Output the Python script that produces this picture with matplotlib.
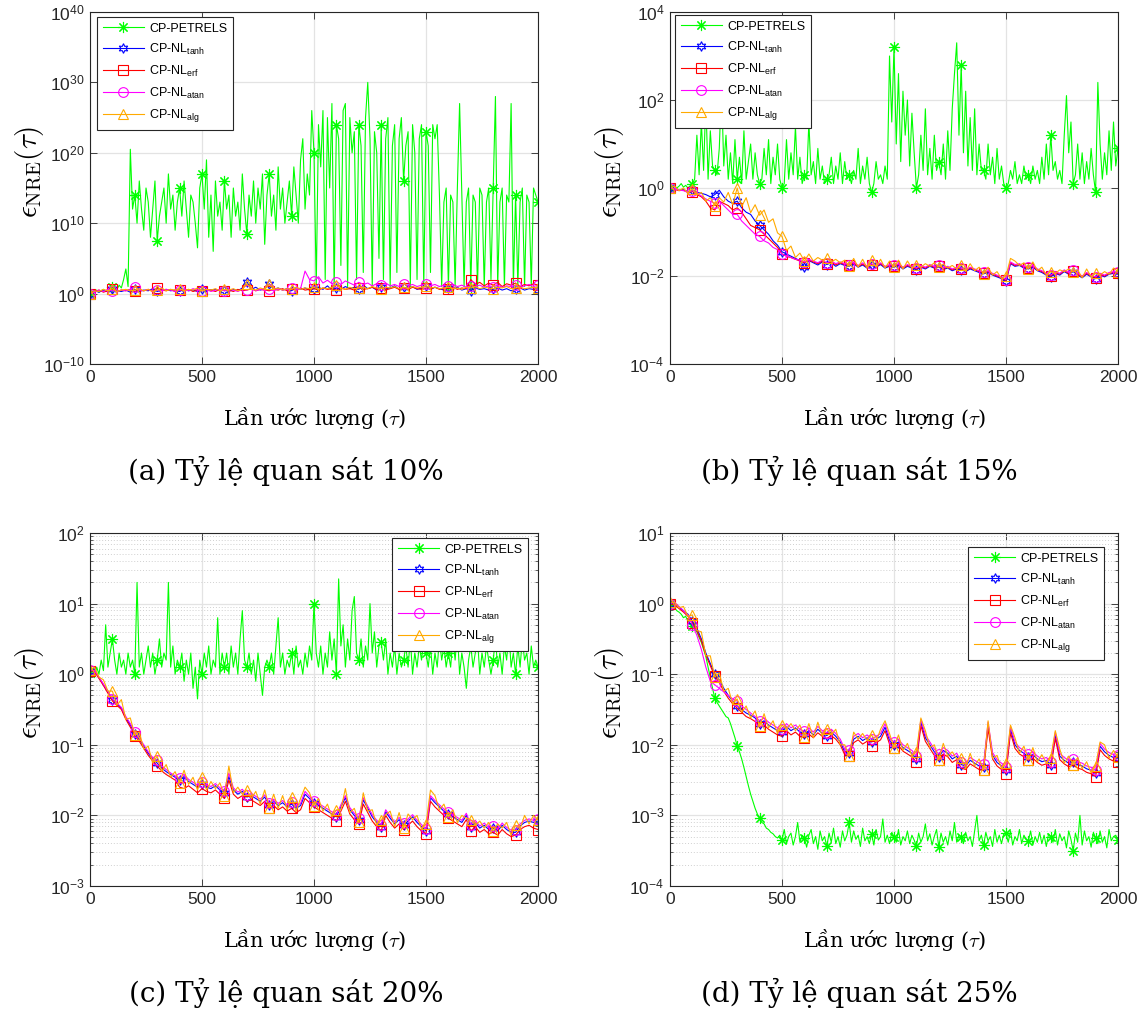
import numpy as np
import matplotlib
matplotlib.use("Agg")
import matplotlib.pyplot as plt
from matplotlib.ticker import FixedLocator, LogLocator, NullFormatter, LogFormatterSciNotation

plt.rcParams.update({
    "font.family": ["Liberation Sans", "DejaVu Sans"],
    "mathtext.fontset": "custom",
    "mathtext.rm": "Liberation Sans",
    "mathtext.it": "Liberation Sans:italic",
    "mathtext.bf": "Liberation Sans:bold",
})

# iteration index (tau): CP-PETRELS read every 10 estimates, CP-NL every 20
tau10 = np.arange(0, 2001, 10)
tau20 = np.arange(0, 2001, 20)

# ---------------- values are log10(eps_NRE) ----------------
# (a) 10% observation
a_petrels = [0, 0.2, 0.3, 0.5, 0.2, 0.4, 0.6, 0.3, 0.5, 0.8, 1.0, 1.0, 0.6, 1.2, 0.8, 2.0, 3.5, 1.0, 20.5, 12,
             14, 10, 16, 12, 9, 15, 13, 8, 12, 16, 7.5, 11, 13, 15, 10, 17, 12, 14, 9, 13,
             15, 11, 16, 12, 8, 14, 13, 10, 6.5, 15, 17, 12, 19, 8, 14, 6, 16, 11, 13, 9,
             16, 12, 14, 8, 15, 11, 13, 9, 17, 12, 8.5, 14, 11, 16, 10, 15, 12, 17, 7, 14,
             17, 11, 14, 9, 18, 12, 15, 10, 13, 16, 11, 18, 14, 10, 19, 22, 12, 17, 14, 26,
             20, 1, 24, 18, 26, 2, 25, 15, 27, 0.5, 24, 22, 4, 26, 27, 1, 25, 20, 23, 2,
             24, 21, 3, 25, 30, 22, 1, 23, 20, 5, 24, 2, 22, 25, 1, 21, 24, 3, 22, 25,
             16, 21, 23, 1, 24, 20, 2, 22, 24, 1, 23, 21, 3, 24, 22, 24, 14, 1, 13, 15,
             1, 14, 13, 1, 15, 27, 14, 1, 13, 15, 1, 14, 13, 1, 15, 14, 1, 13, 15, 2,
             15, 28, 1, 13, 15, 1, 14, 13, 27, 1, 14, 1, 13, 15, 1, 14, 13, 1, 15, 14,
             13]
a_tanh = [0, 0.4, 0.2, 0.5, 0.3, 0.6, 0.4, 0.3, 0.5, 0.2,
          0.6, 0.3, 0.5, 0.4, 0.7, 0.3, 0.5, 0.6, 0.4, 0.5,
          0.3, 0.6, 0.4, 0.5, 0.3, 0.7, 0.4, 0.5, 0.6, 0.4,
          0.5, 0.3, 0.6, 0.4, 0.8, 1.7, 0.6, 0.9, 0.5, 0.7,
          1.4, 0.6, 0.8, 0.5, 0.7, 0.4, 0.9, 0.6, 0.8, 0.5,
          0.7, 0.9, 0.6, 1.1, 0.5, 0.8, 0.6, 1.0, 0.7, 0.9,
          0.6, 1.2, 0.7, 0.9, 0.5, 1.0, 0.7, 0.8, 1.1, 0.6,
          0.9, 0.7, 1.0, 0.6, 0.8, 1.1, 0.6, 0.9, 0.7, 0.5,
          0.8, 0.6, 0.9, 0.5, 0.7, 0.4, 0.8, 0.6, 0.7, 0.5,
          0.6, 0.8, 0.5, 0.7, 0.4, 0.6, 0.8, 0.5, 0.7, 0.6,
          0.5]
a_erf = [0, 0.3, 0.5, 0.2, 0.4, 0.6, 0.3, 0.5, 0.4, 0.6,
         0.3, 0.5, 0.4, 0.6, 0.3, 0.8, 0.5, 0.4, 0.6, 0.3,
         0.5, 0.4, 0.6, 0.3, 0.5, 0.4, 0.6, 0.5, 0.3, 0.6,
         0.4, 0.5, 0.3, 0.6, 0.4, 0.5, 0.7, 0.4, 0.6, 0.5,
         0.4, 0.6, 0.5, 0.7, 0.4, 0.6, 0.5, 0.8, 0.5, 0.6,
         0.7, 0.5, 0.8, 0.6, 0.7, 0.5, 0.8, 0.6, 0.7, 0.5,
         0.8, 0.6, 0.7, 0.9, 0.6, 0.8, 0.5, 0.7, 0.9, 0.6,
         0.8, 0.6, 0.9, 0.7, 0.6, 0.8, 0.7, 0.9, 0.6, 0.8,
         0.7, 0.9, 0.6, 0.8, 0.7, 2.0, 1.3, 1.6, 1.1, 1.5,
         1.2, 1.6, 1.0, 1.4, 1.2, 1.5, 1.0, 1.3, 1.1, 1.4,
         1.2]
a_atan = [0, 0.2, 0.5, 0.3, 0.6, 0.4, 0.3, 0.5, 0.4, 0.6,
          1.0, 0.5, 0.4, 0.6, 0.3, 0.5, 0.4, 0.6, 0.5, 0.3,
          0.5, 0.6, 0.4, 0.7, 0.5, 0.4, 0.6, 0.3, 0.5, 0.6,
          0.4, 0.6, 0.5, 0.3, 0.6, 0.5, 0.7, 0.4, 0.6, 0.5,
          0.6, 0.4, 0.7, 0.5, 0.6, 0.8, 0.6, 0.7, 3.2, 2.0,
          1.8, 2.4, 1.5, 1.9, 1.4, 1.7, 1.3, 1.8, 1.5, 1.2,
          1.6, 1.3, 1.5, 1.1, 1.4, 1.2, 1.5, 1.1, 1.3, 1.0,
          1.4, 1.1, 1.3, 1.0, 1.2, 1.4, 1.1, 1.3, 1.0, 1.2,
          1.1, 1.3, 1.0, 1.2, 0.9, 1.1, 1.0, 1.2, 0.9, 1.1,
          1.0, 1.2, 0.9, 1.1, 1.0, 1.2, 0.9, 1.1, 1.3, 1.0,
          1.2]
a_alg = [0, 0.4, 0.3, 0.6, 0.4, 0.7, 0.3, 0.5, 0.6, 0.4,
         0.5, 0.7, 0.4, 0.6, 0.3, 0.5, 0.8, 0.4, 0.6, 0.5,
         0.7, 0.4, 0.6, 0.5, 0.8, 0.4, 0.6, 0.5, 0.7, 0.4,
         0.6, 0.5, 0.7, 0.4, 0.6, 1.4, 0.7, 0.5, 0.8, 0.6,
         1.3, 0.6, 0.8, 0.5, 0.7, 0.6, 0.9, 0.6, 0.8, 0.7,
         0.9, 0.6, 0.8, 0.7, 0.9, 1.2, 0.8, 0.6, 0.9, 0.7,
         0.8, 0.9, 0.7, 1.0, 0.8, 0.7, 0.9, 0.8, 1.0, 0.7,
         0.9, 0.7, 1.0, 0.8, 0.9, 1.1, 0.8, 0.9, 0.7, 0.8,
         0.9, 0.7, 0.8, 0.6, 0.9, 0.8, 1.0, 0.7, 0.9, 0.8,
         0.7, 0.9, 0.8, 1.0, 0.7, 0.8, 0.9, 0.7, 0.8, 0.9,
         0.8]

# (b) 15% observation
b_petrels = [0, 0.02, 0.05, 0.0, 0.04, 0.1, 0.02, 0.06, 0.0, 0.05, 0.1, 0.2, 1.2, 0.3, 1.5, 0.4, 2.0, 0.2, 1.3, 0.5,
             0.4, 0.3, 0.9, 2.3, 0.5, 1.2, 0.2, 0.8, 0.1, 1.1, 0.2, 0.7, 0.1, 1.3, 0.2, 0.6, 1.0, 0.2, 0.8, 0.3,
             0.1, 0.2, 0.9, 0.3, 1.1, 0.1, 0.7, 0.3, 1.0, 0.2, 0.0, 0.1, 1.1, 0.2, 0.8, 0.3, 1.4, 0.2, 0.7, 0.1,
             0.3, 0.2, 1.5, 0.3, 0.6, 0.1, 0.9, 0.2, 0.5, 0.1, 0.2, 0.3, 0.7, 0.1, 0.5, 0.2, 0.8, 0.1, 0.6, 0.2,
             0.3, 0.1, 0.4, 0.2, 0.9, 0.1, 0.5, 0.2, 0.7, 0.1, -0.1, 0.1, 0.6, 0.2, 0.3, 0.1, 0.5, 0.2, 3.0, 1.5,
             3.2, 1.0, 2.6, 0.6, 2.2, 1.2, 2.0, 0.5, 1.7, 0.8, 0.0, 0.3, 1.2, 0.4, 1.8, 0.3, 0.9, 0.2, 1.2, 0.4,
             0.6, 0.3, 1.0, 0.2, 1.3, 0.4, 1.8, 2.6, 3.3, 1.2, 2.8, 0.8, 2.2, 0.5, 1.6, 0.4, 1.8, 0.3, 1.0, 0.4,
             0.4, 0.2, 1.0, 0.3, 0.7, 0.1, 0.9, 0.2, 0.5, 0.1, 0.0, 0.1, 0.4, 0.2, 0.6, 0.1, 0.3, 0.1, 0.5, 0.2,
             0.3, 0.1, 0.5, 0.2, 0.4, 0.1, 0.7, 0.2, 1.0, 0.3, 1.2, 0.4, 0.6, 0.2, 0.4, 0.1, 1.2, 2.1, 0.8, 1.5,
             0.1, 0.3, 1.0, 0.2, 0.8, 0.1, 0.6, 0.2, 0.9, 0.3, -0.1, 2.4, 1.0, 0.2, 0.8, 0.3, 1.3, 0.4, 1.5, 0.5,
             0.9]
b_tanh = [0, -0.02, -0.05, -0.04, -0.08, -0.05, -0.1, -0.12, -0.15, -0.2,
          -0.15, -0.05, -0.2, -0.3, -0.35, -0.3, -0.45, -0.55, -0.6, -0.75,
          -0.85, -0.95, -1.05, -1.2, -1.3, -1.45, -1.5, -1.55, -1.6, -1.65,
          -1.8, -1.65, -1.7, -1.75, -1.68, -1.74, -1.7, -1.78, -1.72, -1.76,
          -1.78, -1.72, -1.8, -1.75, -1.82, -1.76, -1.8, -1.74, -1.82, -1.78,
          -1.8, -1.76, -1.84, -1.78, -1.82, -1.86, -1.8, -1.84, -1.78, -1.82,
          -1.8, -1.85, -1.82, -1.88, -1.84, -1.86, -1.9, -1.84, -1.88, -1.92,
          -1.95, -1.92, -1.98, -2.02, -2.06, -2.12, -1.72, -1.78, -1.76, -1.82,
          -1.84, -1.8, -1.88, -1.92, -1.98, -2.02, -1.94, -1.98, -1.9, -1.96,
          -1.9, -1.98, -2.04, -1.96, -2.02, -2.06, -1.98, -2.02, -1.96, -1.94,
          -1.96]
b_erf = [0, -0.03, -0.06, -0.05, -0.1, -0.08, -0.15, -0.2, -0.3, -0.45,
         -0.5, -0.3, -0.35, -0.4, -0.5, -0.45, -0.55, -0.7, -0.85, -0.9,
         -0.95, -1.05, -1.15, -1.25, -1.35, -1.5, -1.55, -1.58, -1.62, -1.66,
         -1.7, -1.64, -1.68, -1.72, -1.66, -1.72, -1.68, -1.75, -1.7, -1.74,
         -1.76, -1.7, -1.78, -1.73, -1.8, -1.74, -1.78, -1.72, -1.8, -1.76,
         -1.78, -1.74, -1.82, -1.76, -1.8, -1.84, -1.78, -1.82, -1.76, -1.8,
         -1.78, -1.83, -1.8, -1.86, -1.82, -1.84, -1.88, -1.82, -1.86, -1.9,
         -1.93, -1.9, -1.96, -2.0, -2.04, -2.1, -1.7, -1.76, -1.74, -1.8,
         -1.82, -1.78, -1.86, -1.9, -1.96, -2.0, -1.92, -1.96, -1.88, -1.94,
         -1.88, -1.96, -2.02, -1.94, -2.0, -2.04, -1.96, -2.0, -1.94, -1.92,
         -1.94]
b_atan = [0, -0.02, -0.05, -0.06, -0.1, -0.06, -0.12, -0.18, -0.25, -0.3,
          -0.35, -0.3, -0.4, -0.5, -0.6, -0.6, -0.75, -0.85, -0.95, -1.05,
          -1.1, -1.2, -1.25, -1.35, -1.4, -1.5, -1.55, -1.58, -1.62, -1.64,
          -1.68, -1.62, -1.66, -1.7, -1.64, -1.7, -1.66, -1.72, -1.68, -1.72,
          -1.74, -1.68, -1.76, -1.7, -1.78, -1.72, -1.76, -1.7, -1.78, -1.74,
          -1.76, -1.72, -1.8, -1.74, -1.78, -1.82, -1.76, -1.8, -1.74, -1.78,
          -1.76, -1.81, -1.78, -1.84, -1.8, -1.82, -1.86, -1.8, -1.84, -1.88,
          -1.91, -1.88, -1.94, -1.98, -2.02, -2.08, -1.68, -1.74, -1.72, -1.78,
          -1.8, -1.76, -1.84, -1.88, -1.94, -1.98, -1.9, -1.94, -1.86, -1.92,
          -1.86, -1.94, -2.0, -1.92, -1.98, -2.02, -1.94, -1.98, -1.92, -1.9,
          -1.92]
b_alg = [0, 0.04, -0.06, 0.0, -0.12, -0.02, -0.16, -0.1, -0.3, -0.22,
         -0.4, -0.22, -0.32, -0.1, -0.38, 0.0, -0.42, -0.22, -0.56, -0.38,
         -0.62, -0.5, -0.78, -0.7, -1.02, -1.1, -1.42, -1.32, -1.58, -1.48,
         -1.66, -1.5, -1.66, -1.58, -1.64, -1.6, -1.68, -1.62, -1.7, -1.64,
         -1.78, -1.6, -1.8, -1.62, -1.82, -1.64, -1.8, -1.62, -1.82, -1.66,
         -1.8, -1.64, -1.84, -1.66, -1.82, -1.74, -1.8, -1.72, -1.78, -1.7,
         -1.8, -1.73, -1.82, -1.76, -1.84, -1.74, -1.9, -1.72, -1.88, -1.8,
         -1.95, -1.8, -1.98, -1.9, -2.06, -2.0, -1.6, -1.66, -1.76, -1.7,
         -1.84, -1.68, -1.88, -1.8, -1.98, -1.9, -1.94, -1.86, -1.9, -1.84,
         -1.9, -1.86, -2.04, -1.84, -2.02, -1.94, -1.98, -1.9, -1.96, -1.82,
         -1.9]

# (c) 20% observation
c_petrels = [0.05, 0.0, -0.05, 0.1, 0.0, 0.2, 0.05, 0.7, 0.1, 0.3, 0.5, 0.2, 0.0, 0.3, 0.1, 0.2, 0.0, 0.3, 0.1, 0.2,
             0.0, 1.3, 0.1, 0.3, 0.0, 0.2, 0.4, 0.1, 0.3, 0.0, 0.2, 0.5, 0.1, 0.3, 0.2, 1.3, 0.1, 0.4, 0.0, 0.2,
             0.1, 0.3, -0.1, 0.2, 0.0, 0.3, -0.2, 0.1, -0.35, 0.2, 0.0, 0.3, 0.1, 0.4, 0.0, 0.2, 0.1, 0.8, 0.0, 0.3,
             0.1, 0.3, 0.0, 0.4, 0.1, 0.3, 0.0, 0.5, 0.9, 0.2, 0.1, 0.3, 0.0, 0.2, -0.1, 0.3, 0.0, -0.3, 0.1, 0.2,
             0.1, 0.3, 0.0, 0.4, 0.8, 0.1, 0.3, 0.0, 0.2, 0.1, 0.3, 0.0, 0.4, 0.1, 0.2, 0.0, 0.3, 0.1, 0.4, 0.2,
             1.0, 0.3, 0.1, 0.4, 0.0, 0.3, 0.1, 0.6, 0.2, 0.5, 0.0, 1.35, 0.4, 0.7, 0.1, 0.5, 0.2, 0.9, 1.1, 0.3,
             0.2, 0.5, 0.1, 0.4, 0.2, 1.0, 0.3, 0.6, 0.1, 0.4, 0.45, 0.2, 0.5, 0.0, 0.3, 0.1, 0.4, 0.0, 0.3, 0.1,
             0.2, 0.4, 0.1, 0.5, 0.0, 0.3, 0.1, 0.4, 0.2, 0.5, 0.3, 0.1, 0.4, 0.0, 0.3, 0.1, 0.5, 0.2, 0.4, 0.1,
             0.3, 0.1, 0.5, 0.2, 0.6, 0.0, 0.3, 0.1, -0.2, 0.2, 0.4, 0.1, 0.3, 0.5, 0.0, 0.3, 0.1, 0.4, 0.2, 0.0,
             0.2, 0.5, 0.1, 0.3, 0.0, 0.4, 0.2, 0.6, 0.1, 0.3, 0.0, 0.4, 0.1, 0.5, 0.2, 0.3, 0.0, 0.4, 0.1, 0.2,
             0.1]
c_tanh = [0.05, 0.05, -0.05, -0.15, -0.25, -0.36, -0.42, -0.48, -0.62, -0.72,
          -0.84, -0.92, -1.02, -1.12, -1.2, -1.26, -1.33, -1.38, -1.42, -1.46,
          -1.5, -1.45, -1.52, -1.56, -1.6, -1.55, -1.6, -1.62, -1.58, -1.64,
          -1.68, -1.45, -1.64, -1.7, -1.66, -1.74, -1.72, -1.76, -1.8, -1.74,
          -1.85, -1.8, -1.86, -1.82, -1.88, -1.84, -1.9, -1.86, -1.7, -1.76,
          -1.82, -1.86, -1.9, -1.94, -1.98, -2.02, -1.88, -1.75, -1.92, -2.0,
          -2.06, -1.78, -1.9, -2.02, -2.1, -2.16, -1.95, -2.04, -2.12, -2.06,
          -2.14, -2.08, -2.02, -2.1, -2.16, -2.22, -1.75, -1.82, -1.88, -1.94,
          -1.98, -2.02, -2.06, -2.1, -2.0, -2.16, -2.1, -2.18, -2.14, -2.2,
          -2.18, -2.22, -2.14, -2.2, -2.24, -2.24, -2.15, -2.1, -2.08, -2.1,
          -2.08]
c_erf = [0.05, 0.04, -0.06, -0.16, -0.27, -0.38, -0.44, -0.5, -0.64, -0.75,
         -0.87, -0.95, -1.05, -1.15, -1.23, -1.3, -1.37, -1.42, -1.46, -1.5,
         -1.6, -1.62, -1.58, -1.63, -1.68, -1.62, -1.66, -1.68, -1.64, -1.7,
         -1.76, -1.5, -1.7, -1.76, -1.72, -1.8, -1.78, -1.82, -1.86, -1.8,
         -1.9, -1.86, -1.92, -1.88, -1.94, -1.9, -1.96, -1.92, -1.76, -1.82,
         -1.88, -1.92, -1.96, -2.0, -2.04, -2.08, -1.94, -1.8, -1.98, -2.06,
         -2.12, -1.84, -1.96, -2.08, -2.16, -2.22, -2.0, -2.1, -2.18, -2.12,
         -2.2, -2.14, -2.08, -2.16, -2.22, -2.26, -1.8, -1.88, -1.94, -2.0,
         -2.04, -2.08, -2.12, -2.16, -2.06, -2.22, -2.16, -2.24, -2.2, -2.26,
         -2.24, -2.28, -2.2, -2.26, -2.3, -2.28, -2.2, -2.16, -2.14, -2.18,
         -2.2]
c_atan = [0.06, 0.05, -0.04, -0.14, -0.24, -0.35, -0.41, -0.47, -0.6, -0.7,
          -0.82, -0.9, -1.0, -1.1, -1.18, -1.22, -1.3, -1.35, -1.4, -1.44,
          -1.47, -1.42, -1.49, -1.53, -1.57, -1.52, -1.57, -1.59, -1.55, -1.61,
          -1.65, -1.4, -1.61, -1.67, -1.63, -1.71, -1.69, -1.73, -1.77, -1.71,
          -1.82, -1.77, -1.83, -1.79, -1.85, -1.81, -1.87, -1.83, -1.66, -1.73,
          -1.79, -1.83, -1.87, -1.91, -1.95, -1.99, -1.85, -1.72, -1.89, -1.97,
          -2.03, -1.75, -1.87, -1.99, -2.07, -2.13, -1.92, -2.01, -2.09, -2.03,
          -2.11, -2.05, -1.99, -2.07, -2.13, -2.19, -1.72, -1.79, -1.85, -1.91,
          -1.95, -1.99, -2.03, -2.07, -1.97, -2.13, -2.07, -2.15, -2.11, -2.17,
          -2.15, -2.19, -2.11, -2.17, -2.21, -2.21, -2.12, -2.07, -2.05, -2.07,
          -2.05]
c_alg = [0.06, 0.1, -0.04, -0.08, -0.24, -0.24, -0.44, -0.36, -0.64, -0.62,
         -0.86, -0.82, -1.06, -1.02, -1.26, -1.16, -1.38, -1.28, -1.46, -1.38,
         -1.54, -1.36, -1.56, -1.46, -1.64, -1.46, -1.64, -1.52, -1.62, -1.54,
         -1.72, -1.3, -1.68, -1.6, -1.7, -1.64, -1.76, -1.66, -1.84, -1.64,
         -1.89, -1.7, -1.9, -1.72, -1.92, -1.74, -1.94, -1.76, -1.6, -1.68,
         -1.86, -1.76, -1.94, -1.84, -2.02, -1.92, -1.92, -1.62, -1.96, -1.9,
         -2.1, -1.68, -1.94, -1.92, -2.14, -2.06, -1.99, -1.94, -2.16, -1.96,
         -2.18, -1.98, -2.06, -2.0, -2.2, -2.12, -1.64, -1.72, -1.92, -1.84,
         -2.02, -1.92, -2.1, -2.0, -2.04, -2.06, -2.14, -2.08, -2.18, -2.1,
         -2.22, -2.12, -2.18, -2.1, -2.28, -2.14, -2.19, -2.0, -2.12, -2.0,
         -2.06]

# (d) 25% observation
d_petrels = [0.0, -0.02, -0.05, -0.1, -0.12, -0.15, -0.2, -0.18, -0.25, -0.28, -0.32, -0.35, -0.4, -0.48, -0.55, -0.65, -0.75, -0.9, -1.05, -1.2,
             -1.34, -1.4, -1.45, -1.5, -1.55, -1.6, -1.62, -1.7, -1.8, -1.9, -2.02, -2.1, -2.2, -2.32, -2.45, -2.58, -2.7, -2.8, -2.9, -2.98,
             -3.04, -3.1, -3.12, -3.18, -3.2, -3.24, -3.26, -3.3, -3.32, -3.28, -3.35, -3.2, -3.4, -3.3, -3.25, -3.42, -3.3, -3.1, -3.38, -3.28,
             -3.32, -3.45, -3.28, -3.2, -3.4, -3.3, -3.48, -3.22, -3.36, -3.3, -3.44, -3.25, -3.38, -3.18, -3.4, -3.3, -3.45, -3.22, -3.36, -3.28,
             -3.1, -3.38, -3.22, -3.34, -3.28, -3.44, -3.18, -3.36, -3.3, -3.4, -3.26, -3.42, -3.2, -3.35, -3.3, -3.05, -3.38, -3.28, -3.4, -3.24,
             -3.3, -3.38, -3.2, -3.42, -3.3, -3.36, -3.22, -3.4, -3.28, -3.35, -3.44, -3.25, -3.38, -3.3, -3.12, -3.36, -3.26, -3.42, -3.3, -3.2,
             -3.45, -3.25, -3.38, -3.3, -3.42, -3.22, -3.36, -3.1, -3.38, -3.28, -3.3, -3.4, -3.24, -3.36, -3.3, -3.44, -3.22, -3.0, -3.36, -3.28,
             -3.42, -3.24, -3.36, -3.3, -3.44, -3.2, -3.38, -3.28, -3.4, -3.26, -3.25, -3.38, -3.22, -3.42, -3.3, -3.36, -3.2, -3.4, -3.28, -3.34,
             -3.36, -3.22, -3.42, -3.3, -3.38, -3.24, -3.4, -3.28, -3.44, -3.26, -3.3, -3.38, -3.2, -3.42, -3.26, -3.36, -3.3, -3.46, -3.22, -3.34,
             -3.5, -3.25, -3.38, -3.0, -3.42, -3.22, -3.36, -3.3, -3.45, -3.24, -3.32, -3.4, -3.22, -3.38, -3.3, -3.46, -3.2, -3.36, -3.3, -3.28,
             -3.35]
d_tanh = [0.0, 0.0, -0.05, -0.1, -0.15, -0.25, -0.35, -0.5, -0.7, -0.85,
          -1.0, -1.08, -1.2, -1.3, -1.38, -1.45, -1.5, -1.55, -1.58, -1.62,
          -1.7, -1.66, -1.72, -1.76, -1.8, -1.82, -1.74, -1.8, -1.76, -1.82,
          -1.85, -1.8, -1.86, -1.78, -1.84, -1.87, -1.82, -1.88, -1.96, -2.1,
          -2.12, -1.92, -1.88, -1.94, -1.9, -1.96, -1.92, -1.88, -1.75, -1.94,
          -2.0, -1.96, -2.04, -2.08, -2.12, -2.2, -1.68, -1.9, -2.0, -2.1,
          -2.17, -2.08, -2.12, -2.2, -2.16, -2.28, -2.3, -2.22, -2.26, -2.3,
          -2.31, -1.72, -2.15, -2.25, -2.3, -2.36, -1.78, -2.0, -2.08, -2.12,
          -2.17, -2.14, -2.2, -2.24, -2.22, -2.28, -1.86, -2.16, -2.22, -2.26,
          -2.24, -2.28, -2.3, -2.34, -2.36, -2.4, -2.02, -2.1, -2.15, -2.18,
          -2.19]
d_erf = [0.0, -0.02, -0.07, -0.12, -0.18, -0.28, -0.38, -0.53, -0.73, -0.88,
         -1.03, -1.12, -1.24, -1.34, -1.42, -1.48, -1.54, -1.6, -1.63, -1.67,
         -1.75, -1.72, -1.78, -1.82, -1.86, -1.88, -1.8, -1.86, -1.82, -1.88,
         -1.9, -1.85, -1.9, -1.83, -1.88, -1.91, -1.87, -1.92, -2.0, -2.14,
         -2.16, -1.97, -1.93, -1.99, -1.95, -2.01, -1.97, -1.93, -1.8, -1.99,
         -2.05, -2.01, -2.09, -2.13, -2.17, -2.25, -1.73, -1.95, -2.05, -2.15,
         -2.22, -2.13, -2.17, -2.25, -2.21, -2.33, -2.35, -2.27, -2.31, -2.35,
         -2.36, -1.77, -2.2, -2.3, -2.35, -2.41, -1.83, -2.05, -2.13, -2.17,
         -2.22, -2.19, -2.25, -2.29, -2.27, -2.33, -1.91, -2.21, -2.27, -2.31,
         -2.29, -2.33, -2.35, -2.39, -2.41, -2.45, -2.07, -2.15, -2.2, -2.23,
         -2.24]
d_atan = [0.0, 0.02, -0.04, -0.1, -0.16, -0.3, -0.45, -0.65, -0.9, -1.1,
          -1.15, -1.2, -1.25, -1.3, -1.35, -1.38, -1.45, -1.5, -1.55, -1.6,
          -1.66, -1.62, -1.68, -1.72, -1.76, -1.78, -1.7, -1.76, -1.72, -1.78,
          -1.81, -1.76, -1.82, -1.74, -1.8, -1.83, -1.78, -1.84, -1.92, -2.06,
          -2.08, -1.88, -1.84, -1.9, -1.86, -1.92, -1.88, -1.84, -1.7, -1.9,
          -1.96, -1.92, -2.0, -2.04, -2.08, -2.16, -1.64, -1.86, -1.96, -2.06,
          -2.13, -2.04, -2.08, -2.16, -2.12, -2.24, -2.26, -2.18, -2.22, -2.26,
          -2.27, -1.68, -2.11, -2.21, -2.26, -2.32, -1.74, -1.96, -2.04, -2.08,
          -2.13, -2.1, -2.16, -2.2, -2.18, -2.24, -1.82, -2.12, -2.18, -2.22,
          -2.2, -2.24, -2.26, -2.3, -2.32, -2.36, -1.98, -2.06, -2.11, -2.14,
          -2.15]
d_alg = [0.02, 0.02, -0.06, -0.04, -0.18, -0.16, -0.38, -0.4, -0.74, -0.74,
         -1.04, -0.98, -1.24, -1.2, -1.42, -1.35, -1.54, -1.45, -1.62, -1.52,
         -1.74, -1.56, -1.76, -1.66, -1.84, -1.72, -1.78, -1.7, -1.8, -1.72,
         -1.89, -1.7, -1.9, -1.68, -1.88, -1.77, -1.86, -1.78, -2.0, -2.0,
         -2.16, -1.82, -1.92, -1.84, -1.94, -1.86, -1.96, -1.78, -1.66, -1.84,
         -2.04, -1.86, -2.08, -1.98, -2.16, -2.1, -1.62, -1.8, -2.04, -2.0,
         -2.21, -1.98, -2.16, -2.1, -2.2, -2.18, -2.34, -2.12, -2.3, -2.2,
         -2.35, -1.66, -2.19, -2.15, -2.34, -2.26, -1.72, -1.9, -2.12, -2.02,
         -2.21, -2.04, -2.24, -2.14, -2.26, -2.18, -1.8, -2.06, -2.26, -2.16,
         -2.28, -2.18, -2.34, -2.24, -2.4, -2.3, -1.96, -2.0, -2.19, -2.08,
         -2.17]

labels = ["CP-PETRELS", r"CP-NL$_{\mathrm{tanh}}$", r"CP-NL$_{\mathrm{erf}}$",
          r"CP-NL$_{\mathrm{atan}}$", r"CP-NL$_{\mathrm{alg}}$"]
captions = ["(a) Tỷ lệ quan sát 10%", "(b) Tỷ lệ quan sát 15%",
            "(c) Tỷ lệ quan sát 20%", "(d) Tỷ lệ quan sát 25%"]
xticks = [0, 500, 1000, 1500, 2000]

colors = ["#00FF00", "#0000FF", "#FF0000", "#FF00FF", "#FFAA00"]
markers = [(8, 2, 0), (6, 1, 0), "s", "o", "^"]

W, H = 1146, 1015
fig = plt.figure(figsize=(W / 100, H / 100), dpi=100)

panels = [
    dict(data=[a_petrels, a_tanh, a_erf, a_atan, a_alg], box=(90, 12, 538, 364),
         ylim=(1e-10, 1e40), yticks=[1e-10, 1e0, 1e10, 1e20, 1e30, 1e40], minor=False,
         leg=("upper left", (97, 17))),
    dict(data=[b_petrels, b_tanh, b_erf, b_atan, b_alg], box=(670, 12, 1118, 364),
         ylim=(1e-4, 1e4), yticks=[1e-4, 1e-2, 1e0, 1e2, 1e4], minor=False,
         leg=("upper left", (675, 15))),
    dict(data=[c_petrels, c_tanh, c_erf, c_atan, c_alg], box=(90, 533, 538, 886),
         ylim=(1e-3, 1e2), yticks=[1e-3, 1e-2, 1e-1, 1e0, 1e1, 1e2], minor=True,
         leg=("upper right", (528, 538))),
    dict(data=[d_petrels, d_tanh, d_erf, d_atan, d_alg], box=(670, 533, 1118, 886),
         ylim=(1e-4, 1e1), yticks=[1e-4, 1e-3, 1e-2, 1e-1, 1e0, 1e1], minor=True,
         leg=("upper right", (1104, 547))),
]

axcol = "#262626"
for k, p in enumerate(panels):
    x0, y0, x1, y1 = p["box"]
    ax = fig.add_axes([x0 / W, 1 - y1 / H, (x1 - x0) / W, (y1 - y0) / H])
    for j, (vals, c, m, lab) in enumerate(zip(p["data"], colors, markers, labels)):
        t = tau10 if j == 0 else tau20
        ax.semilogy(t, np.power(10.0, vals), color=c, lw=0.8, marker=m,
                    markevery=10 if j == 0 else 5, ms=8 if j == 0 else 7,
                    mfc="none", mec=c, mew=0.8, label=lab)
    ax.set_xlim(0, 2000)
    ax.set_ylim(*p["ylim"])
    ax.xaxis.set_major_locator(FixedLocator(xticks))
    ax.yaxis.set_major_locator(FixedLocator(p["yticks"]))
    ax.yaxis.set_major_formatter(LogFormatterSciNotation())
    if p["minor"]:
        ax.yaxis.set_minor_locator(LogLocator(base=10, subs=np.arange(2, 10), numticks=50))
        ax.yaxis.set_minor_formatter(NullFormatter())
        ax.grid(True, which="minor", axis="y", color="#d0d0d0", ls=(0, (1, 2)), lw=0.7)
    else:
        ax.yaxis.set_minor_locator(FixedLocator([]))
    ax.grid(True, which="major", color="#e3e3e3", ls="-", lw=0.9)
    ax.set_axisbelow(True)
    ax.tick_params(which="both", direction="in", top=True, right=True, colors=axcol,
                   labelsize=12.5, labelcolor="#262626")
    ax.tick_params(which="major", length=5, width=0.6, pad=4)
    ax.tick_params(which="minor", length=2.5, width=0.5)
    for s in ax.spines.values():
        s.set_color(axcol)
        s.set_linewidth(0.8)
    loc, (lx, ly) = p["leg"]
    ax_w, ax_h = x1 - x0, y1 - y0
    anchor = ((lx - x0) / ax_w, 1 - (ly - y0) / ax_h)
    leg = ax.legend(loc=loc, bbox_to_anchor=anchor, borderaxespad=0, fontsize=9,
                    frameon=True, fancybox=False, framealpha=1, edgecolor=axcol,
                    handlelength=3.3, handletextpad=0.4, labelspacing=0.55,
                    borderpad=0.45, numpoints=1)
    leg.get_frame().set_linewidth(0.8)
    # y label
    cx_left = 29 if x0 < 500 else 29 + 580
    fig.text(cx_left / W, 1 - (y0 + 160) / H, r"$\epsilon_{\mathrm{NRE}}(\tau)$",
             rotation=90, ha="center", va="center", fontsize=21, math_fontfamily="cm",
             color="black")
    # x label
    fig.text(((x0 + x1) / 2) / W, 1 - (y1 + 54) / H, r"Lần ước lượng ($\tau$)",
             ha="center", va="center", fontsize=15, family="DejaVu Serif",
             math_fontfamily="cm", color="black")
    # caption
    sub_cx = 286 if x0 < 500 else 859
    fig.text(sub_cx / W, 1 - (y1 + 107) / H, captions[k], ha="center", va="center",
             fontsize=20, family="DejaVu Serif", color="black")

fig.savefig("out.png", dpi=100)
